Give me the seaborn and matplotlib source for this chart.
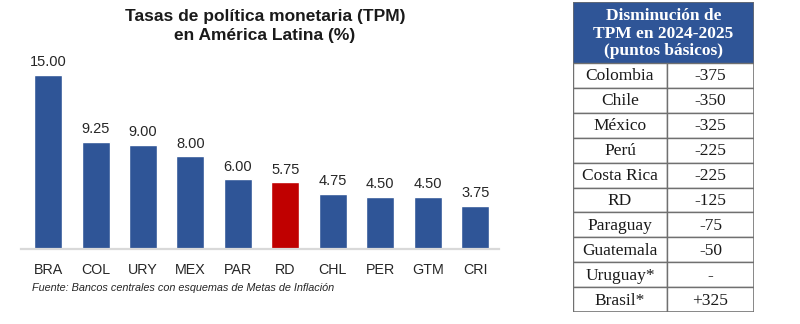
import matplotlib
matplotlib.use("Agg")
import matplotlib.pyplot as plt
import seaborn as sns
import pandas as pd
from matplotlib.patches import Rectangle

# ---------------- data ----------------
countries = ["BRA", "COL", "URY", "MEX", "PAR", "RD", "CHL", "PER", "GTM", "CRI"]
rates = [15.00, 9.25, 9.00, 8.00, 6.00, 5.75, 4.75, 4.50, 4.50, 3.75]
highlight = "RD"

title = "Tasas de política monetaria (TPM)\nen América Latina (%)"
source = "Fuente: Bancos centrales con esquemas de Metas de Inflación"

table_header = "Disminución de\nTPM en 2024-2025\n(puntos básicos)"
table_countries = ["Colombia", "Chile", "México", "Perú", "Costa Rica", "RD",
                   "Paraguay", "Guatemala", "Uruguay*", "Brasil*"]
table_values = ["-375", "-350", "-325", "-225", "-225", "-125",
                "-75", "-50", "-", "+325"]

BLUE = "#2F5597"
RED = "#C00000"

sns.set_theme(style="white")
plt.rcParams["font.family"] = ["Liberation Sans", "DejaVu Sans"]

fig = plt.figure(figsize=(8.0, 3.24), dpi=100)
W, H = 800, 324

# ---------------- bar chart ----------------
ax = fig.add_axes([21 / W, 75 / H, (499 - 21) / W, (249 - 50) / H])
df = pd.DataFrame({"pais": countries, "tpm": rates})
palette = {c: (RED if c == highlight else BLUE) for c in countries}
sns.barplot(data=df, x="pais", y="tpm", hue="pais", palette=palette,
            legend=False, width=0.59, saturation=1, ax=ax)
for cont in ax.containers:
    ax.bar_label(cont, fmt="%.2f", padding=4, fontsize=10.5, color="#262626")
ax.set_xlim(-0.57, 9.5)
ax.set_ylim(0, (249 - 50) / 11.6)
ax.set_xlabel("")
ax.set_ylabel("")
ax.set_yticks([])
for s in ["top", "left", "right"]:
    ax.spines[s].set_visible(False)
ax.spines["bottom"].set_color("#D9D9D9")
ax.spines["bottom"].set_linewidth(1.6)
ax.tick_params(axis="x", length=0, pad=10, labelsize=10.3, colors="#262626")

fig.text(265 / W, 1 - 9 / H, title, ha="center", va="top", fontsize=12.5,
         fontweight="bold", color="#1a1a1a", linespacing=1.3)
fig.text(32 / W, 1 - 288 / H, source, ha="left", va="center", fontsize=7.8,
         style="italic", color="#262626")

# ---------------- table ----------------
tx0, tx1, ty0, ty1 = 573, 754, 2, 312
tax = fig.add_axes([tx0 / W, 1 - ty1 / H, (tx1 - tx0) / W, (ty1 - ty0) / H])
tax.set_xlim(0, tx1 - tx0)
tax.set_ylim(ty1 - ty0, 0)
tax.axis("off")
tw = tx1 - tx0
header_h = 61
row_h = (ty1 - ty0 - header_h) / len(table_countries)
col_split = 667 - tx0
grid = "#707070"
serif = ["Liberation Serif", "DejaVu Serif"]

tax.add_patch(Rectangle((0, 0), tw, header_h, facecolor=BLUE, edgecolor="none"))
tax.text(tw / 2, header_h / 2 + 1, table_header, ha="center", va="center",
         color="white", fontweight="bold", fontsize=12.5, family=serif,
         linespacing=1.15)
for i, (c, v) in enumerate(zip(table_countries, table_values)):
    y = header_h + i * row_h
    tax.add_patch(Rectangle((0, y), col_split, row_h, facecolor="white",
                            edgecolor=grid, linewidth=1.0))
    tax.add_patch(Rectangle((col_split, y), tw - col_split, row_h,
                            facecolor="white", edgecolor=grid, linewidth=1.0))
    tax.text(col_split / 2, y + row_h / 2 + 1, c, ha="center", va="center",
             fontsize=12.5, family=serif, color="#1a1a1a")
    tax.text((col_split + tw) / 2, y + row_h / 2 + 1, v, ha="center",
             va="center", fontsize=12.5, family=serif, color="#1a1a1a")
tax.add_patch(Rectangle((0, 0), tw, ty1 - ty0, facecolor="none",
                        edgecolor=grid, linewidth=1.1))

fig.savefig("out.png", dpi=100)
